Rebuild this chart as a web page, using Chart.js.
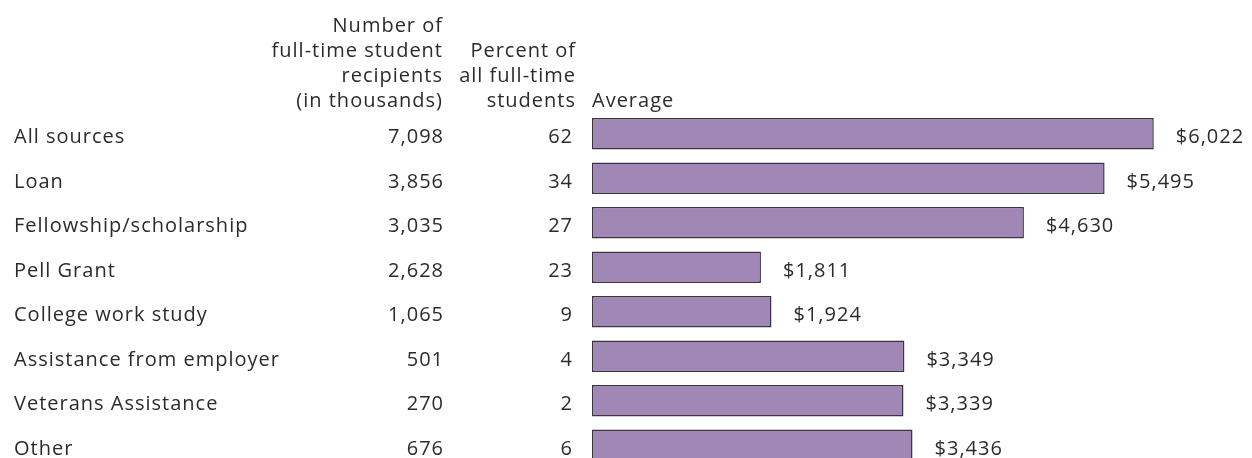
<!DOCTYPE html>
<html>
<head>
<meta charset="utf-8">
<script src="https://cdn.jsdelivr.net/npm/chart.js@4/dist/chart.umd.min.js"></script>
<style>
    html, body { margin: 0; padding: 0; background: #fff; overflow: hidden; }
    #wrap { width: 1252px; height: 468px; }
</style>
</head>
<body>
<div id="wrap"><canvas id="aidChart"></canvas></div>
<script>
// aid sources, full-time students
const sources = ['All sources', 'Loan', 'Fellowship/scholarship', 'Pell Grant',
    'College work study', 'Assistance from employer', 'Veterans Assistance', 'Other'];
const recipients = ['7,098', '3,856', '3,035', '2,628', '1,065', '501', '270', '676'];
const percents = [62, 34, 27, 23, 9, 4, 2, 6];
const averages = [6022, 5495, 4630, 1811, 1924, 3349, 3339, 3436];

// column headers
const recipHeader = ['Number of', 'full-time student', 'recipients', '(in thousands)'];
const pctHeader = ['Percent of', 'all full-time', 'students'];
const avgHeader = 'Average';

const FONT = '20px "Open Sans", "Noto Sans", sans-serif';
const TEXT = '#2b2b2b';

function money(v) {
    return '$' + v.toLocaleString('en-US');
}

// draws the table part (labels, columns, headers, value labels)
const tablePlugin = {
    id: 'tableText',
    afterDatasetsDraw(chart) {
        const ctx = chart.ctx;
        const bars = chart.getDatasetMeta(0).data;
        const left = chart.chartArea.left;
        ctx.save();
        ctx.font = FONT;
        ctx.letterSpacing = '1px';
        ctx.fillStyle = TEXT;
        ctx.textBaseline = 'alphabetic';

        // headers (right aligned ones get +1 for trailing spacing)
        ctx.textAlign = 'right';
        recipHeader.forEach((line, i) => ctx.fillText(line, 443, 32 + i * 25));
        pctHeader.forEach((line, i) => ctx.fillText(line, 576, 57 + i * 25));
        ctx.textAlign = 'left';
        ctx.fillText(avgHeader, left, 107);

        bars.forEach((bar, i) => {
            const y = bar.y + 9.5;
            ctx.textAlign = 'left';
            ctx.fillText(sources[i], 14, y);
            ctx.fillText(money(averages[i]), bar.x + 22, y);
            ctx.textAlign = 'right';
            ctx.fillText(recipients[i], 444, y);
            ctx.fillText(String(percents[i]), 573, y);
        });
        ctx.restore();
    }
};

new Chart(document.getElementById('aidChart'), {
    type: 'bar',
    data: {
        labels: sources,
        datasets: [{
            label: 'Average',
            data: averages,
            backgroundColor: '#a087b6',
            borderColor: '#3c3541',
            borderWidth: 1.5,
            borderSkipped: false,
            categoryPercentage: 1,
            barPercentage: 0.71
        }]
    },
    options: {
        indexAxis: 'y',
        responsive: true,
        maintainAspectRatio: false,
        animation: false,
        layout: {
            padding: { left: 592, right: 7, top: 111.5, bottom: 0.5 }
        },
        plugins: {
            legend: { display: false },
            tooltip: { enabled: false }
        },
        scales: {
            x: { display: false, min: 0, max: 7000 },
            y: { display: false, offset: true }
        }
    },
    plugins: [tablePlugin]
});
</script>
</body>
</html>
